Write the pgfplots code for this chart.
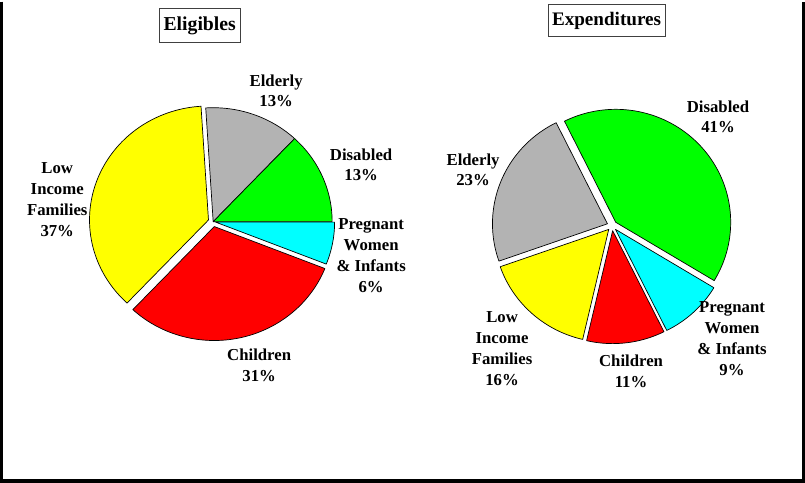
\documentclass[border=0pt]{standalone}
\usepackage{pgfplots}
\pgfplotsset{compat=1.18}
\usepackage{fontspec}
\setmainfont{Liberation Serif}
\definecolor{pgrey}{HTML}{B3B3B3}
\definecolor{pgreen}{HTML}{00FF00}
\definecolor{pcyan}{HTML}{00FFFF}
\definecolor{pred}{HTML}{FF0000}
\definecolor{pyellow}{HTML}{FFFF00}
% slice: cx cy rx ry start cumBefore pct explode color
\newcommand{\slice}[9]{%
 \pgfmathsetmacro\aA{#5-3.6*#6}%
 \pgfmathsetmacro\aB{#5-3.6*(#6+#7)}%
 \pgfmathsetmacro\am{(\aA+\aB)/2}%
 \pgfmathsetmacro\ox{#1+#8*cos(\am)}%
 \pgfmathsetmacro\oy{#2+#8*sin(\am)}%
 \edef\doslice{\noexpand\addplot[fill=#9,draw=black,line width=0.7pt,line join=round,domain=\aB:\aA,samples=90,variable=\noexpand\t] ({\ox+#3*cos(\noexpand\t)},{\oy+#4*sin(\noexpand\t)}) -- (axis cs:\ox,\oy) -- cycle;}%
 \doslice
}
\begin{document}
\begin{tikzpicture}
\begin{axis}[hide axis, scale only axis, width=805bp, height=481bp,
  xmin=0, xmax=805, ymin=0, ymax=481, clip=false]
% Eligibles: Elderly 13, Disabled 13, Pregnant 6, Children 31, Low Income 37
\slice{213}{261}{119}{114}{93.6}{0}{13}{0}{pgrey}
\slice{213}{261}{119}{114}{93.6}{13}{13}{0}{pgreen}
\slice{213}{261}{119}{114}{93.6}{26}{6}{2.5}{pcyan}
\slice{213}{261}{119}{114}{93.6}{32}{31}{5}{pred}
\slice{213}{261}{119}{114}{93.6}{63}{37}{5}{pyellow}
% Expenditures: Disabled 41, Pregnant 9, Children 11, Low Income 16, Elderly 23
\slice{612}{257}{115}{113}{116.5}{0}{41}{5}{pgreen}
\slice{612}{257}{115}{113}{116.5}{41}{9}{5}{pcyan}
\slice{612}{257}{115}{113}{116.5}{50}{11}{5}{pred}
\slice{612}{257}{115}{113}{116.5}{61}{16}{5}{pyellow}
\slice{612}{257}{115}{113}{116.5}{77}{23}{5}{pgrey}
% frame
\draw[line width=3.5bp] (axis cs:1.5,481) -- (axis cs:1.5,1.75) -- (axis cs:803.25,1.75) -- (axis cs:803.25,481);
% titles
\node[draw=black!75, line width=0.8pt, minimum width=81bp, minimum height=34bp, inner sep=0pt,
  font=\bfseries\fontsize{19.8}{22}\selectfont] at (axis cs:199.5,457) {Eligibles};
\node[draw=black!75, line width=0.8pt, minimum width=117bp, minimum height=32bp, inner sep=0pt,
  font=\bfseries\fontsize{19.2}{22}\selectfont] at (axis cs:606.5,462) {Expenditures};
% labels
\tikzset{lab/.style={align=center, inner sep=0pt, font=\bfseries\fontsize{16.8}{20.8}\selectfont}}
\node[lab] at (axis cs:276,392) {Elderly\\13\%};
\node[lab] at (axis cs:361,318) {Disabled\\13\%};
\node[lab] at (axis cs:371,227) {Pregnant\\Women\\\& Infants\\6\%};
\node[lab] at (axis cs:259,117) {Children\\31\%};
\node[lab] at (axis cs:57,283) {Low\\Income\\Families\\37\%};
\node[lab] at (axis cs:718,366) {Disabled\\41\%};
\node[lab] at (axis cs:473,313) {Elderly\\23\%};
\node[lab] at (axis cs:502,134) {Low\\Income\\Families\\16\%};
\node[lab] at (axis cs:631,111) {Children\\11\%};
\node[lab] at (axis cs:732,144) {Pregnant\\Women\\\& Infants\\9\%};
\end{axis}
\end{tikzpicture}
\end{document}
